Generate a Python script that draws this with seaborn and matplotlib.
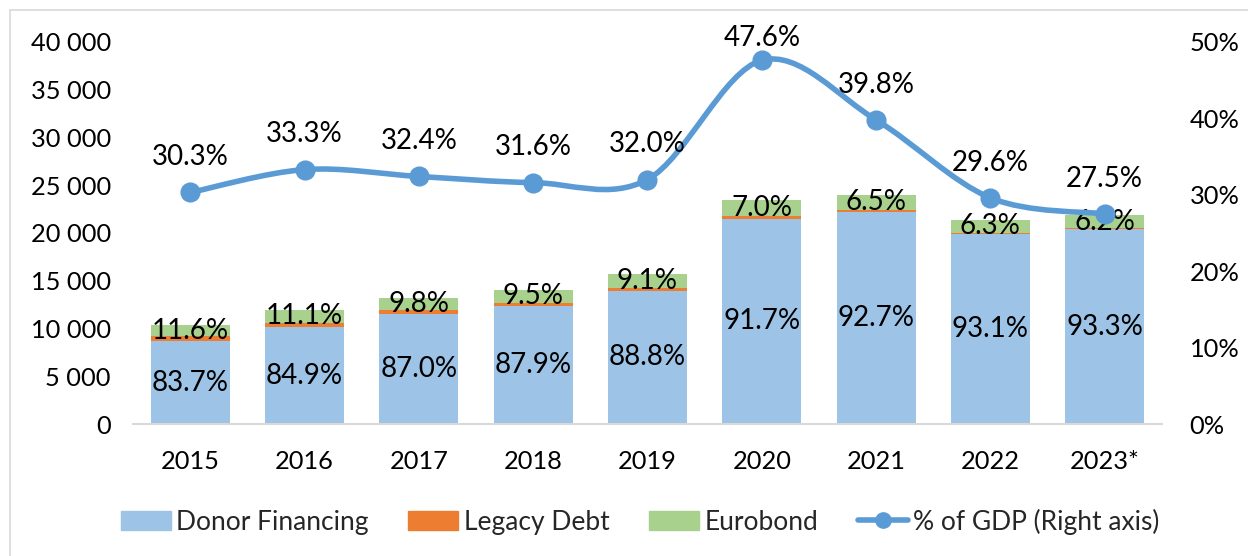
import matplotlib
matplotlib.use("Agg")
import matplotlib.pyplot as plt
import matplotlib.patches as mpatches
from matplotlib.lines import Line2D
from matplotlib.path import Path
import numpy as np
import pandas as pd
import seaborn as sns

# data
years = ["2015", "2016", "2017", "2018", "2019", "2020", "2021", "2022", "2023*"]
donor = [8680, 10140, 11475, 12330, 13940, 21510, 22230, 19890, 20415]
legacy = [490, 475, 425, 370, 330, 310, 190, 125, 110]
eurobond = [1200, 1325, 1290, 1330, 1430, 1640, 1560, 1345, 1355]
donor_lbl = ["83.7%", "84.9%", "87.0%", "87.9%", "88.8%", "91.7%", "92.7%", "93.1%", "93.3%"]
euro_lbl = ["11.6%", "11.1%", "9.8%", "9.5%", "9.1%", "7.0%", "6.5%", "6.3%", "6.2%"]
gdp_pct = [30.3, 33.3, 32.4, 31.6, 32.0, 47.6, 39.8, 29.6, 27.5]

c_donor = "#9DC3E6"
c_legacy = "#ED7D31"
c_euro = "#A9D18E"
c_line = "#5B9BD5"

sns.set_theme(style="white")
plt.rcParams["font.family"] = ["Lato", "DejaVu Sans"]
FS = 18.3      # tick labels
FS_LBL = 20    # data labels
FS_LEG = 19    # legend

df = pd.DataFrame({"year": years, "donor": donor, "legacy": legacy, "eurobond": eurobond})
df["lvl2"] = df["donor"] + df["legacy"]
df["total"] = df["lvl2"] + df["eurobond"]

fig = plt.figure(figsize=(12.48, 5.56), dpi=100)
ax = fig.add_axes([0.1066, 0.2374, 0.931 - 0.1066, 0.9245 - 0.2374])

# stacked bars: draw cumulative heights back to front
for col, c in [("total", c_euro), ("lvl2", c_legacy), ("donor", c_donor)]:
    sns.barplot(data=df, x="year", y=col, color=c, width=0.69, saturation=1,
                linewidth=0, ax=ax)

ax.set_xlim(-0.5, len(years) - 0.5)
ax.set_ylim(0, 40000)
ax.set_yticks(range(0, 40001, 5000))
ax.set_yticklabels([f"{v:,}".replace(",", " ") for v in range(0, 40001, 5000)])
ax.set_xlabel("")
ax.set_ylabel("")
for s in ["top", "left", "right"]:
    ax.spines[s].set_visible(False)
ax.spines["bottom"].set_color("#D9D9D9")
ax.spines["bottom"].set_linewidth(1.5)
ax.tick_params(axis="y", length=0, pad=16, labelsize=FS, colors="black")
ax.tick_params(axis="x", length=0, pad=19, labelsize=FS, colors="black")

for i in range(len(years)):
    ax.text(i, donor[i] / 2, donor_lbl[i], ha="center", va="center", fontsize=FS_LBL, color="black")
    ax.text(i, df["lvl2"][i] + eurobond[i] / 2, euro_lbl[i], ha="center", va="center",
            fontsize=FS_LBL, color="black")

# right axis: % of GDP with smoothed line (Catmull-Rom style bezier)
ax2 = ax.twinx()
ax2.set_ylim(0, 50)
ax2.set_yticks(range(0, 51, 10))
ax2.set_yticklabels([f"{v}%" for v in range(0, 51, 10)])
for s in ["top", "left", "right", "bottom"]:
    ax2.spines[s].set_visible(False)
ax2.tick_params(axis="y", length=0, pad=20, labelsize=FS, colors="black")
ax2.grid(False)
ax.grid(False)

xs = np.arange(len(years), dtype=float)
ys = np.array(gdp_pct, dtype=float)
pts = np.column_stack([xs, ys])
verts = [pts[0]]
codes = [Path.MOVETO]
for i in range(len(pts) - 1):
    p0 = pts[i - 1] if i > 0 else pts[i]
    p1 = pts[i]
    p2 = pts[i + 1]
    p3 = pts[i + 2] if i + 2 < len(pts) else pts[i + 1]
    verts += [p1 + (p2 - p0) / 6, p2 - (p3 - p1) / 6, p2]
    codes += [Path.CURVE4] * 3
ax2.add_patch(mpatches.PathPatch(Path(verts, codes), fill=False, edgecolor=c_line,
                                 linewidth=4, capstyle="round", zorder=3))
sns.scatterplot(x=xs, y=ys, color=c_line, s=180, edgecolor=c_line, ax=ax2, zorder=4, legend=False)
for i in range(len(years)):
    # label near the top edge gets pushed down, as excel keeps it inside the chart
    off = 7 if gdp_pct[i] > 45 else 16
    ax2.annotate(f"{gdp_pct[i]:.1f}%", (xs[i], ys[i]), xytext=(0, off), textcoords="offset points",
                 ha="center", va="bottom", fontsize=FS_LBL, color="black")

handles = [
    mpatches.Patch(color=c_donor, label="Donor Financing"),
    mpatches.Patch(color=c_legacy, label="Legacy Debt"),
    mpatches.Patch(color=c_euro, label="Eurobond"),
    Line2D([0], [0], color=c_line, lw=4, marker="o", markersize=11, label="% of GDP (Right axis)"),
]
fig.legend(handles=handles, loc="center", bbox_to_anchor=(0.513, 0.062), ncol=4, frameon=False,
           fontsize=FS_LEG, handlelength=1.9, handleheight=0.75, columnspacing=1.5, handletextpad=0.2)

# light frame like the source image
fig.patches.append(mpatches.Rectangle((10 / 1248, -0.05), 1.2, 1 - 10 / 556 + 0.05,
                                      transform=fig.transFigure, fill=False,
                                      edgecolor="#D9D9D9", linewidth=1.2))

fig.savefig("out.png", dpi=100)
